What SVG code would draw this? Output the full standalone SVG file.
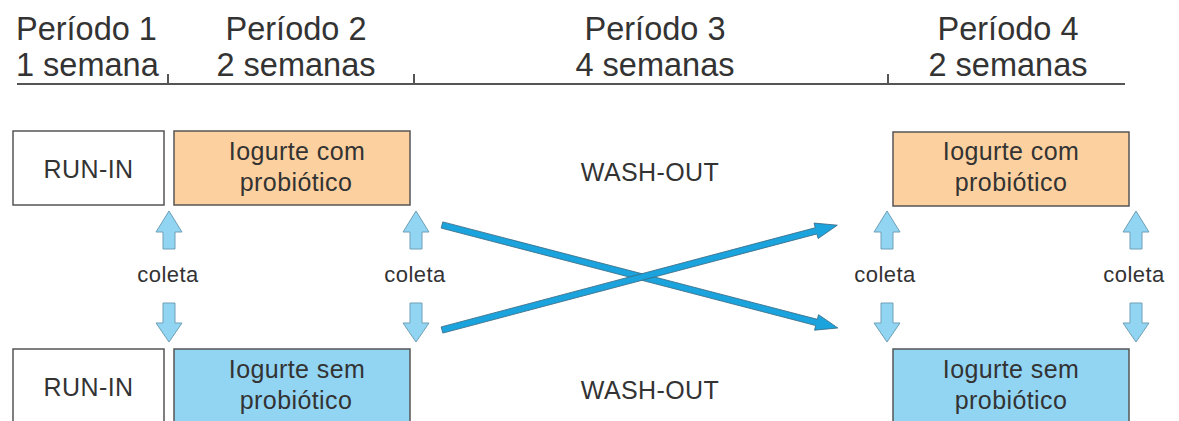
<svg xmlns="http://www.w3.org/2000/svg" width="1179" height="421" viewBox="0 0 1179 421">
<style>
text{font-family:"Liberation Sans",Arial,sans-serif;fill:#333}
.hdr{font-size:32.5px}
.box{stroke:#555;stroke-width:1.5}
.bt{font-size:25px;text-anchor:middle;letter-spacing:0.4px}
.col{font-size:22px;text-anchor:middle;letter-spacing:0.5px}
.ba{fill:#92d5f3;stroke:#6f9fb5;stroke-width:1}
.la{fill:#1ba3dd;stroke:#3a6e88;stroke-width:0.8}
.tl{stroke:#555;stroke-width:2;fill:none}
</style>
<rect width="1179" height="421" fill="#fff"/>
<g id="timeline">
<path class="tl" d="M17 84H1125M168 84V74M414 84V74M888 84V74"/>
<text class="hdr" x="16" y="40">Período 1</text>
<text class="hdr" x="16" y="76">1 semana</text>
<text class="hdr" x="296" y="40" text-anchor="middle">Período 2</text>
<text class="hdr" x="296" y="76" text-anchor="middle">2 semanas</text>
<text class="hdr" x="655" y="40" text-anchor="middle">Período 3</text>
<text class="hdr" x="655" y="76" text-anchor="middle">4 semanas</text>
<text class="hdr" x="1008" y="40" text-anchor="middle">Período 4</text>
<text class="hdr" x="1008" y="76" text-anchor="middle">2 semanas</text>
</g>
<g id="runin-top"><rect class="box" x="13" y="131" width="151" height="74" fill="#fff"/><text class="bt" x="88.5" y="178">RUN-IN</text></g>
<g id="com-p2"><rect class="box" x="174" y="131" width="236" height="74" fill="#fdd19f"/><text class="bt" x="297" y="160">Iogurte com</text><text class="bt" x="296" y="191">probiótico</text></g>
<g id="washout-top"><text class="bt" x="650" y="181">WASH-OUT</text></g>
<g id="com-p4"><rect class="box" x="893" y="132" width="236" height="74" fill="#fdd19f"/><text class="bt" x="1011" y="160">Iogurte com</text><text class="bt" x="1011" y="191">probiótico</text></g>
<g id="runin-bot"><rect class="box" x="13" y="349" width="151" height="80" fill="#fff"/><text class="bt" x="88.5" y="396">RUN-IN</text></g>
<g id="sem-p2"><rect class="box" x="174" y="349" width="236" height="80" fill="#92d5f3"/><text class="bt" x="297" y="378">Iogurte sem</text><text class="bt" x="296" y="409">probiótico</text></g>
<g id="washout-bot"><text class="bt" x="650" y="399">WASH-OUT</text></g>
<g id="sem-p4"><rect class="box" x="893" y="349" width="236" height="80" fill="#92d5f3"/><text class="bt" x="1011" y="378">Iogurte sem</text><text class="bt" x="1011" y="409">probiótico</text></g>
<g id="coleta1"><text class="col" x="168" y="282">coleta</text></g>
<g id="coleta2"><text class="col" x="415" y="282">coleta</text></g>
<g id="coleta3"><text class="col" x="885" y="282">coleta</text></g>
<g id="coleta4"><text class="col" x="1134" y="282">coleta</text></g>
<g id="connectors">
<g transform="translate(169,0)"><polygon class="ba" points="0,211 13,232 6,232 6,249 -6,249 -6,232 -13,232"/><polygon class="ba" points="-6,303 6,303 6,323 13,323 0,342 -13,323 -6,323"/></g>
<g transform="translate(416,0)"><polygon class="ba" points="0,211 13,232 6,232 6,249 -6,249 -6,232 -13,232"/><polygon class="ba" points="-6,303 6,303 6,323 13,323 0,342 -13,323 -6,323"/></g>
<g transform="translate(887,0)"><polygon class="ba" points="0,211 13,232 6,232 6,249 -6,249 -6,232 -13,232"/><polygon class="ba" points="-6,303 6,303 6,323 13,323 0,342 -13,323 -6,323"/></g>
<g transform="translate(1136,0)"><polygon class="ba" points="0,211 13,232 6,232 6,249 -6,249 -6,232 -13,232"/><polygon class="ba" points="-6,303 6,303 6,323 13,323 0,342 -13,323 -6,323"/></g>
<g transform="translate(442,225) rotate(14.58)"><polygon class="la" points="0,-3.2 387,-3.2 387,-8 409,0 387,8 387,3.2 0,3.2"/></g>
<g transform="translate(442,330) rotate(-14.85)"><polygon class="la" points="0,-3.2 387,-3.2 387,-8 409,0 387,8 387,3.2 0,3.2"/></g>
</g>
</svg>
